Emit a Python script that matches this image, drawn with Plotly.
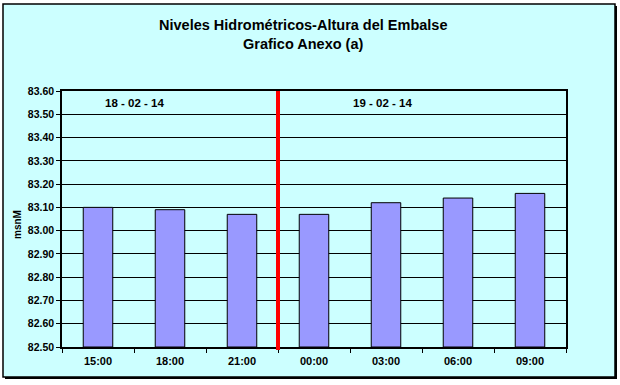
import plotly.graph_objects as go

categories = ["15:00", "18:00", "21:00", "00:00", "03:00", "06:00", "09:00"]
levels = [83.10, 83.09, 83.07, 83.07, 83.12, 83.14, 83.16]
y_ticks = [82.50, 82.60, 82.70, 82.80, 82.90, 83.00, 83.10, 83.20, 83.30, 83.40, 83.50, 83.60]
date_labels = ["18 - 02 - 14", "19 - 02 - 14"]
date_label_x = [0.5, 3.95]
divider_x = 2.5

FONT = "Liberation Sans, Arial, sans-serif"
W, H = 620, 385
L, R, T, B = 62, 54, 91, 38
pw, ph = W - L - R, H - T - B

def px(xp):
    return (xp - L) / pw

def py(yp):
    return (H - B - yp) / ph

fig = go.Figure()
fig.add_trace(go.Bar(
    x=categories, y=[v - 82.5 for v in levels], base=82.5,
    marker=dict(color="#9999FF", line=dict(color="black", width=1)),
    width=0.41, hoverinfo="skip",
))

shapes = [
    dict(type="rect", xref="paper", yref="paper", layer="below",
         x0=px(5), x1=px(617), y0=py(379), y1=py(6),
         fillcolor="black", line=dict(width=0)),
    dict(type="rect", xref="paper", yref="paper", layer="below",
         x0=px(3), x1=px(615), y0=py(377), y1=py(4),
         fillcolor="#CCFFFF", line=dict(color="black", width=1.5)),
    dict(type="line", xref="x", yref="paper", x0=divider_x, x1=divider_x,
         y0=py(350), y1=1, line=dict(color="#FF0000", width=4)),
]

annotations = [
    dict(text="<b>Niveles Hidrométricos-Altura del Embalse</b>", xref="paper", yref="paper",
         x=px(303), y=py(25), showarrow=False, font=dict(family=FONT, size=14.5, color="black"),
         xanchor="center", yanchor="middle"),
    dict(text="<b>Grafico Anexo (a)</b>", xref="paper", yref="paper",
         x=px(303), y=py(44), showarrow=False, font=dict(family=FONT, size=14.5, color="black"),
         xanchor="center", yanchor="middle"),
    dict(text="<b>msnM</b>", xref="paper", yref="paper", x=px(17), y=py(225),
         showarrow=False, textangle=-90, font=dict(family=FONT, size=10, color="black"),
         xanchor="center", yanchor="middle"),
]
for lbl, xv in zip(date_labels, date_label_x):
    annotations.append(dict(text="<b>" + lbl + "</b>", xref="x", yref="paper", x=xv, y=py(103),
                            showarrow=False, font=dict(family=FONT, size=11.5, color="black"),
                            xanchor="center", yanchor="middle"))

fig.update_layout(
    width=W, height=H,
    margin=dict(l=L, r=R, t=T, b=B, pad=0),
    paper_bgcolor="white", plot_bgcolor="white",
    showlegend=False, bargap=0.59,
    shapes=shapes, annotations=annotations,
    xaxis=dict(
        type="category", tickson="boundaries",
        tickmode="array", tickvals=categories, ticktext=["<b>" + c + "</b>" for c in categories],
        range=[-0.5, len(categories) - 0.5],
        showline=True, linecolor="black", linewidth=1.5, mirror=True,
        ticks="outside", ticklen=4, tickcolor="black", showgrid=False, zeroline=False,
        ticklabelstandoff=3,
        tickfont=dict(family=FONT, size=11, color="black"),
    ),
    yaxis=dict(
        range=[82.5, 83.6], tickmode="array", tickvals=y_ticks,
        ticktext=["<b>%.2f</b>" % v for v in y_ticks],
        showline=True, linecolor="black", linewidth=1.5, mirror=True,
        ticks="outside", ticklen=4, tickcolor="black",
        showgrid=True, gridcolor="black", gridwidth=1, zeroline=False,
        tickfont=dict(family=FONT, size=10.5, color="black"),
    ),
)
fig.write_html("out.html")
